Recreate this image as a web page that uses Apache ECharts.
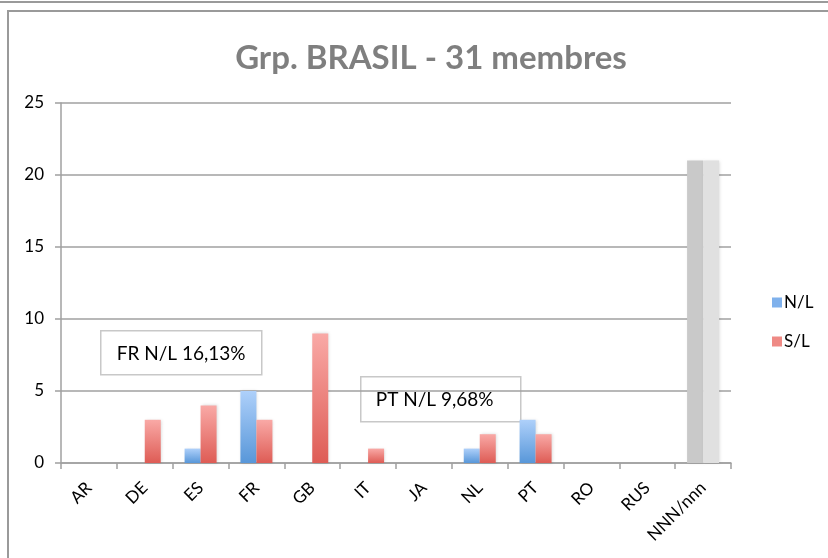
<!DOCTYPE html>
<html>
<head>
<meta charset="utf-8">
<script src="https://cdn.jsdelivr.net/npm/echarts@6/dist/echarts.min.js"></script>
<style>
  html, body { margin: 0; padding: 0; background: #fff; }
  #chart { width: 828px; height: 558px; }
</style>
</head>
<body>
<div id="chart"></div>
<script>
const categories = ['AR', 'DE', 'ES', 'FR', 'GB', 'IT', 'JA', 'NL', 'PT', 'RO', 'RUS', 'NNN/nnn']
const nlValues = [0, 0, 1, 5, 0, 0, 0, 1, 3, 0, 0, 21]
const slValues = [0, 3, 4, 3, 9, 1, 0, 2, 2, 0, 0, 21]
const yTicks = { min: 0, max: 25, interval: 5 }
const notes = ['FR N/L 16,13%', 'PT N/L 9,68%']

const blueGrad = new echarts.graphic.LinearGradient(0, 0, 0, 1, [
  { offset: 0, color: '#aed0fa' },
  { offset: 1, color: '#5897d9' }
])
const redGrad = new echarts.graphic.LinearGradient(0, 0, 0, 1, [
  { offset: 0, color: '#f9a9a6' },
  { offset: 1, color: '#de5c55' }
])

// last category is drawn in greys
const withTotal = (vals, grey) =>
  vals.map((v, i) => (i === vals.length - 1 ? { value: v, itemStyle: { color: grey } } : v))

const font = 'Lato, "Open Sans", sans-serif'
const chart = echarts.init(document.getElementById('chart'), null, { renderer: 'canvas' })

chart.setOption({
  backgroundColor: '#fff',
  animation: false,
  title: {
    text: 'Grp. BRASIL - 31 membres',
    left: 426,
    textAlign: 'center',
    top: 37,
    textStyle: { color: '#7f7f7f', fontSize: 33, fontWeight: 'bold', fontFamily: font }
  },
  grid: { left: 61, right: 97, top: 103, bottom: 95 },
  legend: {
    orient: 'vertical',
    left: 767,
    top: 289,
    itemWidth: 10,
    itemHeight: 10,
    itemGap: 22,
    icon: 'rect',
    textStyle: { color: '#000', fontSize: 17, fontFamily: font, padding: [0, 0, 0, -3] },
    data: [
      { name: 'N/L', itemStyle: { color: '#7fb1ec' } },
      { name: 'S/L', itemStyle: { color: '#ef8a85' } }
    ]
  },
  xAxis: {
    type: 'category',
    data: categories,
    axisLine: { lineStyle: { color: '#a0a0a0', width: 1.5 } },
    axisTick: { show: true, length: 6, lineStyle: { color: '#a0a0a0', width: 1.5 } },
    axisLabel: { rotate: 45, color: '#000', fontSize: 17, fontFamily: font, margin: 22, interval: 0 }
  },
  yAxis: {
    type: 'value',
    min: yTicks.min,
    max: yTicks.max,
    interval: yTicks.interval,
    axisLine: { show: true, lineStyle: { color: '#a0a0a0', width: 1.5 } },
    axisTick: { show: true, length: 6, lineStyle: { color: '#a0a0a0', width: 1.5 } },
    axisLabel: { color: '#000', fontSize: 17, fontFamily: font, margin: 17 },
    splitLine: { lineStyle: { color: '#a0a0a0', width: 1.5 } }
  },
  series: [
    {
      name: 'N/L',
      type: 'bar',
      barWidth: 16,
      barGap: '0%',
      data: withTotal(nlValues, '#c9c9c9'),
      itemStyle: { color: blueGrad, shadowColor: 'rgba(0,0,0,0.15)', shadowBlur: 3, shadowOffsetX: 1 }
    },
    {
      name: 'S/L',
      type: 'bar',
      barWidth: 16,
      data: withTotal(slValues, '#e0e0e0'),
      itemStyle: { color: redGrad, shadowColor: 'rgba(0,0,0,0.15)', shadowBlur: 3, shadowOffsetX: 1 }
    }
  ],
  graphic: [
    { type: 'line', shape: { x1: 0, y1: 2, x2: 828, y2: 2 }, style: { stroke: '#9a9a9a', lineWidth: 2 } },
    { type: 'line', shape: { x1: 7, y1: 11, x2: 828, y2: 11 }, style: { stroke: '#9a9a9a', lineWidth: 2 } },
    { type: 'line', shape: { x1: 8, y1: 11, x2: 8, y2: 558 }, style: { stroke: '#9a9a9a', lineWidth: 2 } },
    {
      type: 'group', left: 100, top: 330, z: 100,
      children: [
        { type: 'rect', shape: { x: 0, y: 0, width: 161, height: 44 }, style: { fill: '#fff', stroke: '#c8c8c8', lineWidth: 1.5 } },
        { type: 'text', x: 16, y: 23, style: { text: notes[0], fill: '#000', fontSize: 19, fontFamily: font, verticalAlign: 'middle' } }
      ]
    },
    {
      type: 'group', left: 360, top: 376, z: 100,
      children: [
        { type: 'rect', shape: { x: 0, y: 0, width: 160, height: 45 }, style: { fill: '#fff', stroke: '#c8c8c8', lineWidth: 1.5 } },
        { type: 'text', x: 15, y: 23, style: { text: notes[1], fill: '#000', fontSize: 19, fontFamily: font, verticalAlign: 'middle' } }
      ]
    }
  ]
})
</script>
</body>
</html>
